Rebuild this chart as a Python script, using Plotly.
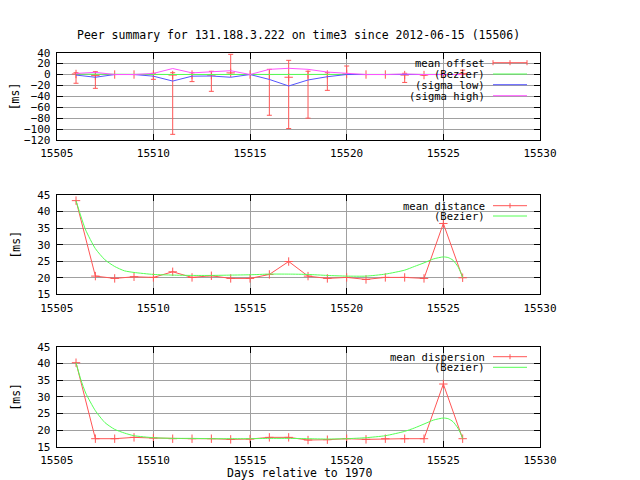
import plotly.graph_objects as go

# ---------------- data ----------------
days = list(range(15506, 15527))
x_ticks = [15505, 15510, 15515, 15520, 15525, 15530]

# top panel: offset
off_mean = [1, -2, 0, 0, 0, -1, 0, -1, 3, 0, 0, -5, 0, 0, 1, 0, 0, -1, -1, 0, 2]
off_max = [3.3, 5.2, 0, 0, 2.2, 3.3, 3.3, 5.9, 37, 0, 9.5, 26, 6, 3.3, 15.6, 0, 0, 2.2, -1, 0, 8]
off_min = [-16, -25.3, 0, 0, -8.8, -109.6, -13, -30.8, 0.4, 0, -74.7, -99, -80, -29, 0, 0, 0, -14.5, -1, 0, 0]
off_bez = [0.8, 0.4, 0.2, 0.1, 0.1, 0.1, 0.1, 0.2, 0.2, 0.1, 0, 0, 0, 0, 0, 0, 0, 0, 0, 0.1, 0.3]
sig_low = [-1, -5, 0, 0, -3, -12, -3, -2.7, -5, 0, -9, -21, -10, -4, 0, 0, 0, -1, 0, 0, 0]
sig_high = [2, 4, 0, 0, 2, 11, 3, 4.5, 7, 0, 9.5, 11.4, 9.5, 4.5, 2, 0, 0, 1, 0, 0, 0]

# middle panel: distance
dist = [43.3, 20.5, 19.8, 20.3, 20.1, 21.8, 20.1, 20.6, 19.8, 19.8, 21.0,
        24.9, 20.5, 19.8, 20.1, 19.5, 20.1, 20.1, 19.8, 36.4, 20.0]
dist_bez_x = [15506, 15506.25, 15506.5, 15507, 15507.5, 15508, 15508.5, 15509,
              15510, 15511, 15512, 15513, 15514, 15515, 15516, 15517, 15518,
              15519, 15520, 15521, 15522, 15523, 15523.5, 15524, 15524.5,
              15525, 15525.25, 15525.5, 15525.75, 15525.9, 15526]
dist_bez_y = [43.3, 38.6, 34.4, 28.8, 25.4, 23.4, 22.1, 21.6,
              21.0, 20.8, 20.7, 20.7, 20.8, 20.9, 21.1, 21.1, 21.0,
              20.7, 20.5, 20.5, 21.1, 22.3, 23.4, 24.5, 25.7,
              26.3, 26.1, 25.3, 23.4, 21.6, 20.0]

# bottom panel: dispersion
disp = [40.2, 17.4, 17.4, 17.8, 17.6, 17.4, 17.4, 17.4, 17.2, 17.3, 17.8,
        17.8, 17.0, 17.1, 17.4, 17.2, 17.4, 17.4, 17.4, 33.8, 17.4]
disp_bez_x = dist_bez_x
disp_bez_y = [40.2, 35.1, 31.1, 25.8, 22.2, 20.2, 19.1, 18.3,
              17.7, 17.5, 17.5, 17.4, 17.4, 17.4, 17.5, 17.5, 17.4,
              17.3, 17.4, 17.7, 18.3, 19.6, 20.6, 21.8, 23.0,
              23.6, 23.4, 22.5, 20.6, 18.9, 17.4]

# ---------------- styling ----------------
RED = '#ff5555'
GREEN = '#55ff55'
BLUE = '#5555ff'
MAGENTA = '#ff55ff'
GRID = '#a0a0a0'
FONT = 'DejaVu Sans Mono'
OFF = 8            # page body margin of the browser
W, H = 640 - OFF, 480 - OFF


def px(x):
    return (x - OFF) / W


def py(y):
    return 1 - (y - OFF) / H


fig = go.Figure()

# top
fig.add_trace(go.Scatter(
    x=days, y=off_mean, mode='markers', xaxis='x', yaxis='y',
    marker=dict(symbol='cross-thin', size=6, line=dict(color=RED, width=1), color=RED),
    error_y=dict(type='data', symmetric=False,
                 array=[mx - m for mx, m in zip(off_max, off_mean)],
                 arrayminus=[m - mn for m, mn in zip(off_mean, off_min)],
                 color=RED, thickness=1, width=2.5),
    showlegend=False))
fig.add_trace(go.Scatter(x=days, y=off_bez, mode='lines', xaxis='x', yaxis='y',
                         line=dict(color=GREEN, width=1), showlegend=False))
fig.add_trace(go.Scatter(x=days, y=sig_low, mode='lines', xaxis='x', yaxis='y',
                         line=dict(color=BLUE, width=1), showlegend=False))
fig.add_trace(go.Scatter(x=days, y=sig_high, mode='lines', xaxis='x', yaxis='y',
                         line=dict(color=MAGENTA, width=1), showlegend=False))

# middle
fig.add_trace(go.Scatter(
    x=days, y=dist, mode='lines+markers', xaxis='x2', yaxis='y2',
    line=dict(color=RED, width=1),
    marker=dict(symbol='cross-thin', size=6, line=dict(color=RED, width=1), color=RED),
    showlegend=False))
fig.add_trace(go.Scatter(x=dist_bez_x, y=dist_bez_y, mode='lines', xaxis='x2', yaxis='y2',
                         line=dict(color=GREEN, width=1, shape='spline', smoothing=0.6),
                         showlegend=False))

# bottom
fig.add_trace(go.Scatter(
    x=days, y=disp, mode='lines+markers', xaxis='x3', yaxis='y3',
    line=dict(color=RED, width=1),
    marker=dict(symbol='cross-thin', size=6, line=dict(color=RED, width=1), color=RED),
    showlegend=False))
fig.add_trace(go.Scatter(x=disp_bez_x, y=disp_bez_y, mode='lines', xaxis='x3', yaxis='y3',
                         line=dict(color=GREEN, width=1, shape='spline', smoothing=0.6),
                         showlegend=False))

xdom = [px(56.7), px(540)]
TICKFONT = dict(family=FONT, size=11, color='black')


def xax(anchor):
    return dict(domain=xdom, anchor=anchor, range=[15505, 15530], tickvals=x_ticks,
                tickformat='d', automargin=False, ticklabelstandoff=3,
                ticks='inside', ticklen=6, tickcolor='black', showline=True,
                linecolor='black', linewidth=1, mirror='ticks', showgrid=True,
                gridcolor=GRID, gridwidth=1, zeroline=False, tickfont=TICKFONT)


def yax(anchor, dom, rng, tv):
    return dict(domain=dom, anchor=anchor, range=rng, tickvals=tv, automargin=False,
                ticklabelstandoff=3,
                ticks='inside', ticklen=6, tickcolor='black', showline=True,
                linecolor='black', linewidth=1, mirror='ticks', showgrid=True,
                gridcolor=GRID, gridwidth=1, zeroline=False, tickfont=TICKFONT)


fig.update_layout(
    template='none',
    width=W, height=H, margin=dict(l=0, r=0, t=0, b=0, pad=0, autoexpand=False),
    paper_bgcolor='white', plot_bgcolor='white',
    xaxis=xax('y'), xaxis2=xax('y2'), xaxis3=xax('y3'),
    yaxis=yax('x', [py(140), py(52.7)], [-120, 40], list(range(-120, 41, 20))),
    yaxis2=yax('x2', [py(294.3), py(195)], [15, 45], list(range(15, 46, 5))),
    yaxis3=yax('x3', [py(446.7), py(346.7)], [15, 45], list(range(15, 46, 5))),
    showlegend=False,
)

shapes = []
# opaque key boxes (above grid, below data)
for (x0, y0, x1, y1) in [(399, 57, 539, 101), (394, 199, 539, 222), (380, 350, 539, 373)]:
    shapes.append(dict(type='rect', xref='paper', yref='paper', layer='between',
                       x0=px(x0), x1=px(x1), y0=py(y1), y1=py(y0),
                       line=dict(width=0), fillcolor='white'))

SX0, SX1, SXM = 493, 527, 510


def hline(y, color):
    return dict(type='line', xref='paper', yref='paper', x0=px(SX0), x1=px(SX1),
                y0=py(y), y1=py(y), line=dict(color=color, width=1))


def vtick(x, y, color, h=2.5):
    return dict(type='line', xref='paper', yref='paper', x0=px(x), x1=px(x),
                y0=py(y - h), y1=py(y + h), line=dict(color=color, width=1))


annotations = []
KEYFONT = dict(family=FONT, size=10.5, color='black')


def key_text(text, y):
    annotations.append(dict(text=text, xref='paper', yref='paper', x=px(486), y=py(y),
                            xanchor='right', yanchor='middle', showarrow=False,
                            borderpad=0, font=KEYFONT))


# top key
key_text('mean offset', 62.7)
shapes += [hline(62.7, RED), vtick(SX0, 62.7, RED), vtick(SX1, 62.7, RED), vtick(SXM, 62.7, RED)]
key_text('(Bezier)', 74)
shapes.append(hline(74, GREEN))
key_text('(sigma low)', 84.7)
shapes.append(hline(84.7, BLUE))
key_text('(sigma high)', 95.7)
shapes.append(hline(95.7, MAGENTA))

# middle key
key_text('mean distance', 205.7)
shapes += [hline(205.7, RED), vtick(SXM, 205.7, RED)]
key_text('(Bezier)', 216)
shapes.append(hline(216, GREEN))

# bottom key
key_text('mean dispersion', 356.7)
shapes += [hline(356.7, RED), vtick(SXM, 356.7, RED)]
key_text('(Bezier)', 367.3)
shapes.append(hline(367.3, GREEN))

# titles
TFONT = dict(family=FONT, size=11.5, color='black')
annotations.append(dict(text='Peer summary for 131.188.3.222 on time3 since 2012-06-15 (15506)',
                        xref='paper', yref='paper', x=px(298.3), y=py(35),
                        xanchor='center', yanchor='middle', showarrow=False, font=TFONT))
annotations.append(dict(text='Days relative to 1970', xref='paper', yref='paper',
                        x=px(299), y=py(473), xanchor='center', yanchor='middle',
                        showarrow=False, font=TFONT))
for xc, yc in [(15, 96.3), (16, 244.6), (16, 396.7)]:
    annotations.append(dict(text='[ms]', xref='paper', yref='paper', x=px(xc), y=py(yc),
                            xanchor='center', yanchor='middle', textangle=-90,
                            borderpad=0, showarrow=False, font=TFONT))

fig.update_layout(shapes=shapes, annotations=annotations)
fig.write_html('out.html')
